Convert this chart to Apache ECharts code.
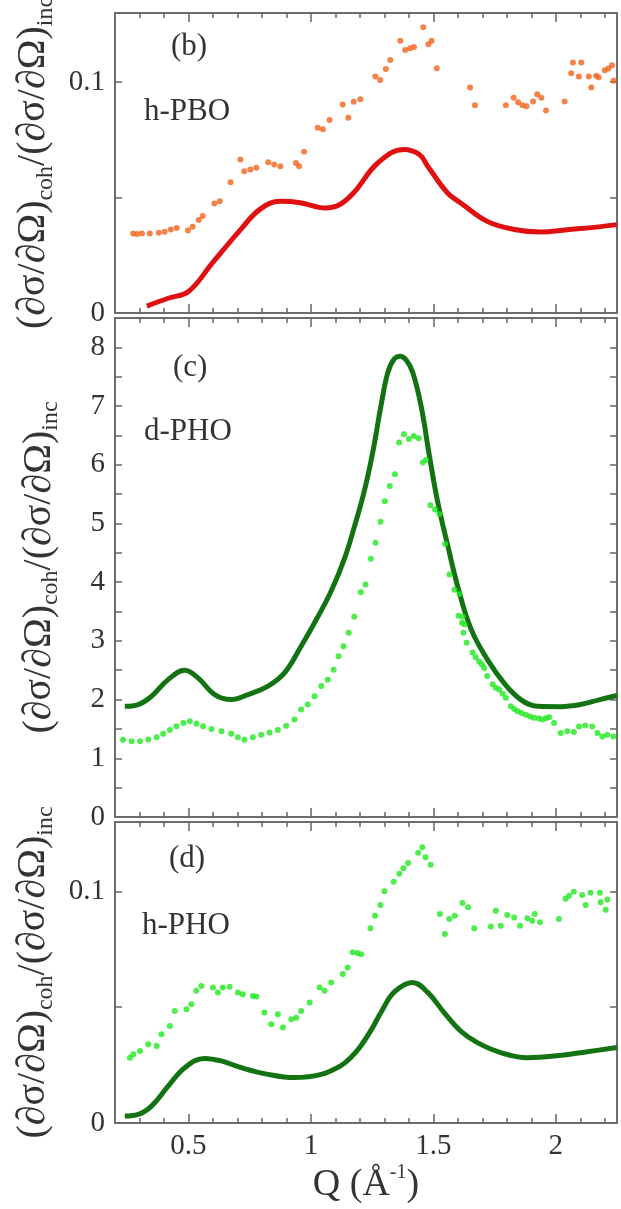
<!DOCTYPE html>
<html><head><meta charset="utf-8">
<script src="https://cdn.jsdelivr.net/npm/echarts@6/dist/echarts.min.js"></script>
<style>html,body{margin:0;padding:0;background:#fff}#c{width:621px;height:1209px}</style>
</head><body><div id="c"></div>
<script>
// ---------- data ----------
const qMajorTicks = [0.5, 1, 1.5, 2];
const qMinorTicks = [0.3,0.4,0.5,0.6,0.7,0.8,0.9,1.0,1.1,1.2,1.3,1.4,1.5,1.6,1.7,1.8,1.9,2.0,2.1,2.2];
const smallYTicks = [0.05, 0.1];
const smallYLabels = [0, 0.1];
const bigYTicks = [0.5,1,1.5,2,2.5,3,3.5,4,4.5,5,5.5,6,6.5,7,7.5,8];
const bigYLabels = [0,1,2,3,4,5,6,7,8];

// (b) h-PBO : calculated coherent/incoherent (line) and measured (points)
const pboCurve = [[0.33,0.003],[0.42,0.0065],[0.50,0.0093],[0.598,0.0217],[0.712,0.036],[0.793,0.045],[0.875,0.0484],[0.956,0.0478],[1.06,0.0455],[1.118,0.047],[1.178,0.0525],[1.273,0.065],[1.38,0.0709],[1.443,0.0687],[1.477,0.0636],[1.558,0.052],[1.612,0.0477],[1.72,0.0397],[1.83,0.0362],[1.94,0.0351],[2.047,0.0361],[2.156,0.0371],[2.25,0.0383]];
const pboPoints = [[0.274,0.0345],[0.29,0.0342],[0.31,0.0344],[0.342,0.0345],[0.379,0.0348],[0.403,0.0352],[0.428,0.0362],[0.452,0.0368],[0.498,0.0357],[0.517,0.0374],[0.542,0.0403],[0.558,0.042],[0.606,0.0474],[0.628,0.0484],[0.672,0.0567],[0.712,0.0665],[0.728,0.0614],[0.753,0.0622],[0.777,0.0629],[0.826,0.0653],[0.85,0.0643],[0.875,0.0636],[0.939,0.065],[0.952,0.0636],[0.972,0.0699],[1.028,0.0803],[1.049,0.0796],[1.076,0.0836],[1.13,0.0904],[1.153,0.0846],[1.175,0.0915],[1.202,0.0926],[1.263,0.1025],[1.283,0.101],[1.306,0.1057],[1.324,0.1096],[1.365,0.118],[1.385,0.114],[1.405,0.1147],[1.421,0.1153],[1.459,0.1238],[1.48,0.1165],[1.493,0.118],[1.514,0.1061],[1.65,0.0977],[1.67,0.09],[1.796,0.09],[1.828,0.0933],[1.846,0.0913],[1.864,0.09],[1.88,0.0896],[1.907,0.0917],[1.924,0.0948],[1.941,0.0933],[1.96,0.0878],[2.036,0.0917],[2.063,0.1039],[2.07,0.1086],[2.094,0.1025],[2.104,0.1086],[2.135,0.1025],[2.145,0.0977],[2.165,0.1028],[2.175,0.1022],[2.2,0.1052],[2.215,0.1059],[2.23,0.1074],[2.236,0.1006]];

// (c) d-PHO
const dphoCurve = [[0.24,1.886],[0.295,1.915],[0.349,2.056],[0.417,2.34],[0.485,2.5],[0.539,2.37],[0.607,2.085],[0.675,2.0],[0.743,2.085],[0.825,2.23],[0.893,2.46],[0.96,2.91],[1.015,3.31],[1.083,3.85],[1.137,4.4],[1.178,4.95],[1.218,5.55],[1.252,6.2],[1.286,7.0],[1.314,7.57],[1.34,7.8],[1.365,7.85],[1.39,7.78],[1.416,7.57],[1.45,7.0],[1.484,6.15],[1.518,5.36],[1.559,4.62],[1.6,3.92],[1.654,3.2],[1.721,2.68],[1.789,2.28],[1.857,2.0],[1.924,1.886],[2.019,1.88],[2.1,1.915],[2.18,2.0],[2.25,2.07]];
const dphoPoints = [[0.233,1.317],[0.268,1.29],[0.302,1.29],[0.336,1.32],[0.37,1.36],[0.397,1.42],[0.424,1.48],[0.451,1.544],[0.479,1.6],[0.506,1.63],[0.533,1.59],[0.56,1.544],[0.594,1.5],[0.635,1.46],[0.675,1.42],[0.702,1.36],[0.729,1.317],[0.763,1.36],[0.797,1.4],[0.831,1.44],[0.865,1.48],[0.899,1.556],[0.933,1.66],[0.96,1.83],[0.987,1.915],[1.015,2.056],[1.042,2.23],[1.069,2.34],[1.093,2.51],[1.113,2.74],[1.133,2.91],[1.154,3.14],[1.177,3.41],[1.204,3.83],[1.223,3.96],[1.245,4.4],[1.264,4.67],[1.284,5.03],[1.302,5.38],[1.322,5.64],[1.343,5.84],[1.36,6.38],[1.38,6.52],[1.4,6.44],[1.42,6.49],[1.44,6.45],[1.457,6.04],[1.47,6.08],[1.488,5.31],[1.507,5.24],[1.525,5.16],[1.548,4.65],[1.566,4.13],[1.586,3.87],[1.603,3.43],[1.607,3.8],[1.617,3.31],[1.62,3.41],[1.623,3.14],[1.627,3.28],[1.636,2.97],[1.66,2.8],[1.673,2.72],[1.687,2.65],[1.698,2.6],[1.708,2.54],[1.72,2.4],[1.742,2.26],[1.755,2.2],[1.769,2.17],[1.783,2.1],[1.796,2.03],[1.816,1.886],[1.83,1.84],[1.844,1.8],[1.86,1.77],[1.878,1.74],[1.895,1.71],[1.911,1.69],[1.93,1.68],[1.945,1.66],[1.96,1.68],[1.973,1.7],[1.993,1.6],[2.02,1.43],[2.047,1.46],[2.074,1.45],[2.095,1.54],[2.12,1.56],[2.149,1.54],[2.17,1.43],[2.19,1.37],[2.21,1.4],[2.235,1.37]];

// (d) h-PHO
const hphoCurve = [[0.24,0.003],[0.295,0.0037],[0.349,0.0073],[0.417,0.0159],[0.485,0.0239],[0.566,0.0279],[0.634,0.0268],[0.716,0.0239],[0.825,0.021],[0.933,0.0196],[1.042,0.021],[1.123,0.0248],[1.165,0.0285],[1.205,0.0335],[1.248,0.0405],[1.29,0.0485],[1.341,0.0566],[1.415,0.0607],[1.477,0.0564],[1.544,0.0477],[1.612,0.0397],[1.68,0.0347],[1.775,0.0304],[1.884,0.0282],[1.993,0.0289],[2.129,0.0308],[2.25,0.0326]];
const hphoPoints = [[0.261,0.0282],[0.275,0.0297],[0.302,0.0311],[0.336,0.034],[0.37,0.0333],[0.39,0.0383],[0.424,0.0419],[0.444,0.0484],[0.492,0.0491],[0.512,0.0513],[0.532,0.0571],[0.553,0.0592],[0.6,0.0585],[0.62,0.0564],[0.64,0.0585],[0.668,0.0588],[0.702,0.0564],[0.722,0.0556],[0.763,0.0549],[0.777,0.0546],[0.81,0.0477],[0.838,0.0426],[0.865,0.047],[0.886,0.0412],[0.92,0.0448],[0.94,0.0455],[0.96,0.0484],[0.995,0.052],[1.036,0.0585],[1.056,0.0571],[1.083,0.0607],[1.13,0.0643],[1.15,0.0672],[1.17,0.0737],[1.19,0.0734],[1.205,0.0729],[1.243,0.0841],[1.262,0.0895],[1.284,0.0942],[1.3,0.1001],[1.338,0.1042],[1.361,0.1076],[1.378,0.11],[1.397,0.1123],[1.438,0.1167],[1.455,0.1191],[1.468,0.1148],[1.489,0.1115],[1.527,0.0903],[1.547,0.0816],[1.565,0.0881],[1.588,0.0895],[1.619,0.095],[1.642,0.0932],[1.667,0.0841],[1.735,0.0849],[1.755,0.0917],[1.775,0.0852],[1.802,0.0898],[1.83,0.0888],[1.854,0.0852],[1.884,0.0884],[1.904,0.0874],[1.914,0.0903],[1.935,0.0867],[2.013,0.0881],[2.04,0.0968],[2.054,0.0982],[2.074,0.0999],[2.108,0.0985],[2.122,0.0942],[2.142,0.0994],[2.18,0.0994],[2.183,0.0953],[2.204,0.0921],[2.211,0.0965]];

// ---------- chart ----------
const FONT = '"Liberation Serif","Times New Roman",serif';
const TXT = '#333';
const TICK = '#666';
const panels = [
  {top:13, height:300, ymax:0.13, ticks:smallYTicks, labels:smallYLabels, curve:pboCurve, pts:pboPoints, lc:'#e01010', pc:'#f2641a'},
  {top:318, height:499, ymax:8.5, ticks:bigYTicks, labels:bigYLabels, curve:dphoCurve, pts:dphoPoints, lc:'#137313', pc:'#1fe81f'},
  {top:822, height:301, ymax:0.13, ticks:smallYTicks, labels:smallYLabels, curve:hphoCurve, pts:hphoPoints, lc:'#137313', pc:'#1fe81f'}
];
const yName = '{m|(∂σ/∂Ω)}{s|coh}{m|/(∂σ/∂Ω)}{s|inc}';
const grid = [], xAxis = [], yAxis = [], series = [];
const tickLine = {color:TICK, width:1.5};
const numLabel = {fontFamily:FONT, fontSize:29, color:TXT};
panels.forEach((p, g) => {
  grid.push({left:115, top:p.top, width:502, height:p.height, show:true, borderColor:'#6e6e6e', borderWidth:2, backgroundColor:'transparent', containLabel:false, outerBoundsMode:'none'});
  const xBase = {gridIndex:g, type:'value', min:0.2, max:2.25, splitLine:{show:false}, axisLine:{show:false, onZero:false}};
  const isLast = g === 2;
  xAxis.push(Object.assign({}, xBase, {position:'bottom',
    axisTick:{show:true, inside:true, length:5, customValues:qMinorTicks, lineStyle:tickLine},
    axisLabel:{show:isLast, customValues:qMajorTicks, margin:9, ...numLabel, formatter:v=>String(v)},
    name: isLast ? '{m|Q (Å}{p|-1}{m|)}' : '', nameLocation:'middle', nameGap:40,
    nameTextStyle:{fontFamily:FONT, color:TXT, rich:{m:{fontFamily:FONT, fontSize:38, color:TXT, lineHeight:44}, p:{fontFamily:FONT, fontSize:20, color:TXT, verticalAlign:'top', lineHeight:20}}}
  }));
  xAxis.push(Object.assign({}, xBase, {position:'bottom', axisTick:{show:true, inside:true, length:9, customValues:qMajorTicks, lineStyle:tickLine}, axisLabel:{show:false}}));
  xAxis.push(Object.assign({}, xBase, {position:'top', axisTick:{show:true, inside:true, length:5, customValues:qMinorTicks, lineStyle:tickLine}, axisLabel:{show:false}}));
  xAxis.push(Object.assign({}, xBase, {position:'top', axisTick:{show:true, inside:true, length:9, customValues:qMajorTicks, lineStyle:tickLine}, axisLabel:{show:false}}));
  const yBase = {gridIndex:g, type:'value', min:0, max:p.ymax, splitLine:{show:false}, axisLine:{show:false, onZero:false}};
  yAxis.push(Object.assign({}, yBase, {position:'left',
    axisTick:{show:true, inside:true, length:7, customValues:p.ticks, lineStyle:tickLine},
    axisLabel:{show:true, customValues:p.labels, margin:10, ...numLabel, formatter:v=>String(v)},
    name:yName, nameLocation:'middle', nameRotate:90, nameGap:52,
    nameTextStyle:{fontFamily:FONT, color:TXT, rich:{m:{fontFamily:FONT, fontSize:40, color:TXT, lineHeight:48}, s:{fontFamily:FONT, fontSize:24, color:TXT, verticalAlign:'bottom', lineHeight:18}}}
  }));
  yAxis.push(Object.assign({}, yBase, {position:'right', axisTick:{show:true, inside:true, length:7, customValues:p.ticks, lineStyle:tickLine}, axisLabel:{show:false}}));
  series.push({type:'line', xAxisIndex:g*4, yAxisIndex:g*2, data:p.curve, smooth:0.4, showSymbol:false, lineStyle:{color:p.lc, width:5}, z:2});
  series.push({type:'scatter', xAxisIndex:g*4, yAxisIndex:g*2, data:p.pts, symbol:'circle', symbolSize:6, itemStyle:{color:p.pc}, z:3});
});
const labelFont = '31px ' + FONT;
const txt = (x, y, s) => ({type:'text', x:x, y:y, style:{text:s, font:labelFont, fill:TXT, align:'left', verticalAlign:'middle'}});
const chart = echarts.init(document.getElementById('c'), null, {renderer:'canvas'});
chart.setOption({
  animation:false,
  backgroundColor:'#fff',
  grid, xAxis, yAxis, series,
  graphic:[txt(171,47,'(b)'), txt(144,112,'h-PBO'), txt(173,368,'(c)'), txt(144,432,'d-PHO'), txt(169,859,'(d)'), txt(142,926,'h-PHO')]
});
</script></body></html>
